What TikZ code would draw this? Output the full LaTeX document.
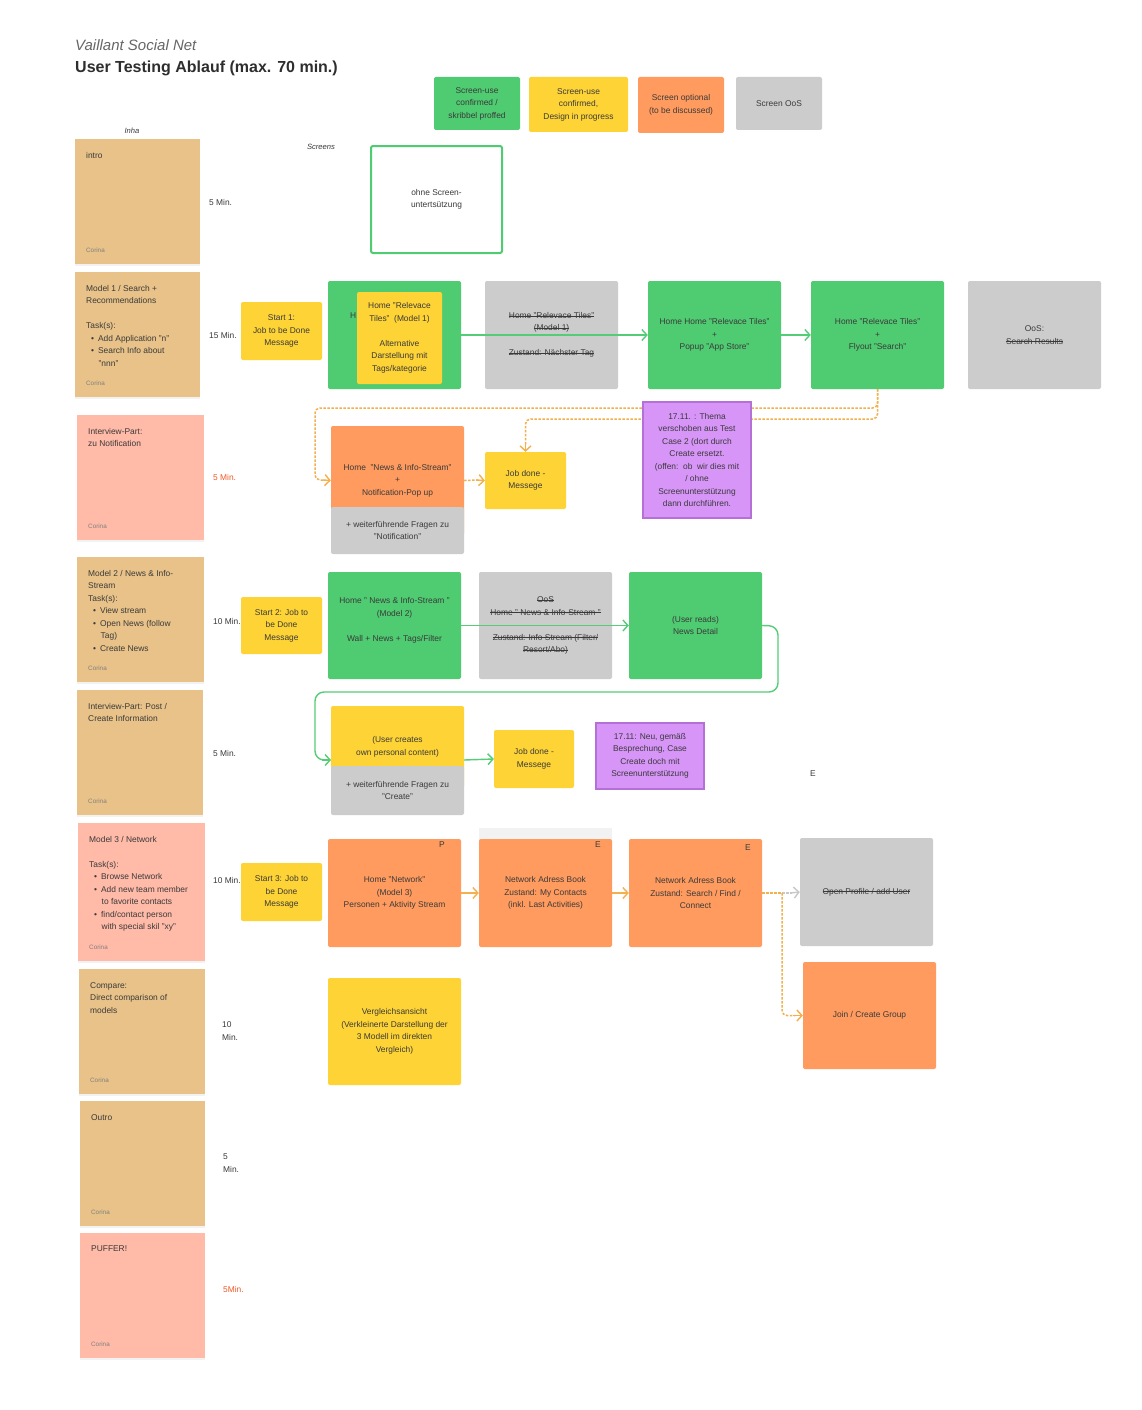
\documentclass[tikz,border=0pt]{standalone}
\usepackage{fontspec}
\setmainfont{Liberation Sans}
\usetikzlibrary{arrows.meta,shadows}

\definecolor{cgreen}{HTML}{4FCB71}
\definecolor{cyellow}{HTML}{FED335}
\definecolor{corange}{HTML}{FF9B5E}
\definecolor{cgray}{HTML}{CDCCCD}
\definecolor{ctan}{HTML}{E8C288}
\definecolor{cpink}{HTML}{FFBAA8}
\definecolor{cpurple}{HTML}{D795F8}
\definecolor{cpurpleb}{HTML}{B470D6}
\definecolor{cdash}{HTML}{F3B04E}
\definecolor{cline}{HTML}{55CC77}
\definecolor{ctxt}{HTML}{3A3A3A}
\definecolor{cred}{HTML}{F05A28}
\definecolor{cgdash}{HTML}{C8C8C8}

\newlength\stw
\newcommand\strike[1]{\settowidth\stw{#1}\rlap{#1}\rule[0.27em]{\stw}{0.45pt}}
\newcommand\fs{\fontsize{8.4}{12.5}\selectfont}
\newcommand\bul{\hspace*{5pt}\textbullet\hspace{4pt}}
\newcommand\cont{\hspace*{12.5pt}}
\newcommand\mybox[7]{\node[#1,minimum width={#5-#3},minimum height={#6-#4}] (#2) at ({(#3+#5)/2},{(#4+#6)/2}) {#7};}
\newcommand\sticky[7]{%
  \mybox{stickybg,fill=#2}{#1}{#3}{#4}{#5}{#6}{}%
  \node[ntext] (#1t) at (#3+11,#4+13) {#7};%
  \node[corina] (#1c) at (#3+11,#6-14) {Corina};}

\tikzset{
  scr/.style={rounded corners=2pt, inner sep=0pt, align=center, text=ctxt, font=\fs},
  gbox/.style={scr, fill=cgreen},
  ybox/.style={scr, fill=cyellow},
  obox/.style={scr, fill=corange},
  grbox/.style={scr, fill=cgray},
  pbox/.style={scr, fill=cpurple, draw=cpurpleb, line width=1.3pt, rounded corners=0pt},
  wbox/.style={scr, fill=white, draw=cgreen, line width=2pt},
  stickybg/.style={inner sep=0pt, drop shadow={opacity=0.1, shadow xshift=0pt, shadow yshift=-2pt}},
  ntext/.style={anchor=north west, align=left, inner sep=0pt, text=ctxt, font=\fs},
  corina/.style={anchor=west, inner sep=0pt, text=black!50, font=\fontsize{6.3}{7}\selectfont},
  tlabel/.style={anchor=west, inner sep=0pt, text=ctxt, font=\fs, align=left},
  hdr/.style={inner sep=0pt, text=ctxt, font=\fontsize{7.6}{9}\selectfont\itshape},
  corner/.style={inner sep=0pt, text=ctxt, font=\fs},
  tip/.style={-{Straight Barb[length=5pt,width=11pt]}},
  garrow/.style={draw=cline, line width=1.4pt, tip},
  oarrow/.style={draw=cdash, line width=1.4pt, tip},
  odash/.style={draw=cdash, line width=1.5pt, dash pattern=on 2.5pt off 1.5pt},
  gdash/.style={draw=cgdash, line width=1.5pt, dash pattern=on 2.5pt off 1.5pt},
}

\begin{document}
\begin{tikzpicture}[x=1pt,y=-1pt]
\useasboundingbox (0,0) rectangle (1142,1410);
\fill[white] (0,0) rectangle (1142,1410);

% titles
\node[anchor=base west, inner sep=0pt, text=black!60, font=\fontsize{15}{18}\selectfont\itshape] (sub) at (75,51) {Vaillant Social Net};
\node[anchor=base west, inner sep=0pt, text=black!82, font=\fontsize{16}{19}\selectfont\bfseries] (title) at (75,73) {User Testing Ablauf (max. 70 min.)};

% legend
\mybox{gbox}{lg1}{434}{77}{520}{130}{Screen-use\\confirmed /\\skribbel proffed}
\mybox{ybox}{lg2}{529}{77}{628}{132}{Screen-use\\confirmed,\\Design in progress}
\mybox{obox}{lg3}{638}{77}{724}{133}{Screen optional\\(to be discussed)}
\mybox{grbox}{lg4}{736}{77}{822}{130}{Screen OoS}

% headers
\node[hdr] (inha) at (132,131) {Inha};
\node[hdr] (screens) at (321,147) {Screens};

% sticky notes
\sticky{intro}{ctan}{75}{139}{200}{264}{intro}
\sticky{mone}{ctan}{75}{272}{200}{397}{Model 1 / Search +\\Recommendations\\~\\Task(s):\\\bul Add Application "n"\\\bul Search Info about\\\cont "nnn"}
\sticky{ipone}{cpink}{77}{415}{204}{540}{Interview-Part:\\zu Notification}
\sticky{mtwo}{ctan}{77}{557}{204}{682}{Model 2 / News \& Info-\\Stream\\Task(s):\\\bul View stream\\\bul Open News (follow\\\cont Tag)\\\bul Create News}
\sticky{iptwo}{ctan}{77}{690}{203}{815}{Interview-Part: Post /\\Create Information}
\sticky{mthree}{cpink}{78}{823}{205}{961}{Model 3 / Network\\~\\Task(s):\\\bul Browse Network\\\bul Add new team member\\\cont to favorite contacts\\\bul find/contact person\\\cont with special skil "xy"}
\sticky{cmp}{ctan}{79}{969}{205}{1094}{Compare:\\Direct comparison of\\models}
\sticky{outro}{ctan}{80}{1101}{205}{1226}{Outro}
\sticky{puffer}{cpink}{80}{1233}{205}{1358}{PUFFER!}

% time labels
\node[tlabel] (tone) at (209,202) {5 Min.};
\node[tlabel] (ttwo) at (209,335) {15 Min.};
\node[tlabel, text=cred] (tthree) at (213,477) {5 Min.};
\node[tlabel] (tfour) at (213,621) {10 Min.};
\node[tlabel] (tfive) at (213,753) {5 Min.};
\node[tlabel] (tsix) at (213,880) {10 Min.};
\node[tlabel] (tseven) at (222,1031) {10\\Min.};
\node[tlabel] (teight) at (223,1163) {5\\Min.};
\node[tlabel, text=cred] (tnine) at (223,1289) {5Min.};

% intro screen
\mybox{wbox}{ohne}{371}{146}{502}{253}{ohne Screen-\\untertsützung}

% row 1
\mybox{ybox}{sone}{241}{302}{322}{360}{Start 1:\\Job to be Done\\Message}
\mybox{gbox}{hone}{328}{281}{461}{389}{}
\node[corner, anchor=west] (hlabel) at (350,316) {H};
\mybox{ybox}{honey}{357}{292}{442}{384}{Home "Relevace\\Tiles"\ \ (Model 1)\\~\\Alternative\\Darstellung mit\\Tags/kategorie}
\mybox{grbox}{oosone}{485}{281}{618}{389}{\strike{Home "Relevace Tiles"}\\\strike{(Model 1)}\\~\\\strike{Zustand: Nächster Tag}}
\mybox{gbox}{gtwo}{648}{281}{781}{389}{Home Home "Relevace Tiles"\\+\\Popup "App Store"}
\mybox{gbox}{gthree}{811}{281}{944}{389}{Home "Relevace Tiles"\\+\\Flyout "Search"}
\mybox{grbox}{oostwo}{968}{281}{1101}{389}{OoS:\\\strike{Search Results}}
\draw[garrow] (hone.east) -- (gtwo.west);
\draw[garrow] (gtwo.east) -- (gthree.west);

% row 2 (notification)
\mybox{obox}{oone}{331}{426}{464}{535}{Home\ \ "News \& Info-Stream"\\+\\Notification-Pop up}
\mybox{grbox}{ooneq}{331}{507}{464}{554}{+ weiterführende Fragen zu\\"Notification"}
\mybox{ybox}{jdone}{485}{452}{566}{509}{Job done -\\Messege}

\draw[odash, rounded corners=5pt] (gthree.south) -- (877.5,408) -- (315,408) -- (315,480) -- (325,480);
\draw[cdash, line width=1.4pt, tip] (323,480) -- (oone.west);
\draw[odash, rounded corners=5pt] (gthree.south) -- (877.5,419) -- (525.5,419) -- (525.5,446);
\draw[cdash, line width=1.4pt, tip] (525.5,444) -- (jdone.north);
\draw[odash] (oone.east) -- (478,480);
\draw[cdash, line width=1.4pt, tip] (476,480) -- (jdone.west);

\mybox{pbox}{pone}{643}{402}{751}{518}{17.11. : Thema\\verschoben aus Test\\Case 2 (dort durch\\Create ersetzt.\\(offen:\ \ ob\ \ wir dies mit\\/ ohne\\Screenunterstützung\\dann durchführen.}

% row 3 (model 2)
\mybox{ybox}{stwo}{241}{597}{322}{654}{Start 2: Job to\\be Done\\Message}
\mybox{gbox}{mtwog}{328}{572}{461}{679}{Home " News \& Info-Stream "\\(Model 2)\\~\\Wall + News + Tags/Filter\\~}
\mybox{grbox}{oosthree}{479}{572}{612}{679}{\strike{OoS}\\\strike{Home " News \& Info-Stream "}\\~\\\strike{Zustand: Info Stream (Filter/}\\\strike{Resort/Abo)}}
\mybox{gbox}{uone}{629}{572}{762}{679}{(User reads)\\News Detail}
\draw[garrow] (mtwog.east) -- (uone.west);

% row 4 (create)
\mybox{ybox}{cone}{331}{706}{464}{788}{(User creates\\own personal content)}
\mybox{grbox}{coneq}{331}{766}{464}{815}{+ weiterführende Fragen zu\\"Create"}
\coordinate (cin) at (331,760);
\coordinate (cout) at (464,760);
\mybox{ybox}{jdtwo}{494}{730}{574}{788}{Job done -\\Messege}
\mybox{pbox}{ptwo}{596}{723}{704}{789}{17.11: Neu, gemäß\\Besprechung, Case\\Create doch mit\\Screenunterstützung}
\node[corner] (elabel) at (813,774) {E};
\draw[cline, line width=1.4pt, rounded corners=9pt] (uone.east) -- (778,626) -- (778,692) -- (315,692) -- (315,760) -- (324,760);
\draw[garrow] (322,760) -- (cin);
\draw[garrow] (cout) -- (jdtwo.west);

% row 5 (model 3)
\mybox{ybox}{sthree}{241}{863}{322}{921}{Start 3: Job to\\be Done\\Message}
\mybox{obox}{none}{328}{839}{461}{947}{Home "Network"\\(Model 3)\\Personen + Aktivity Stream}
\node[corner] (pl) at (442,845) {P};
\fill[black!5] (479,828) rectangle (612,840);
\mybox{obox}{ntwo}{479}{839}{612}{947}{Network Adress Book\\Zustand: My Contacts\\(inkl. Last Activities)}
\node[corner] (eone) at (598,845) {E};
\mybox{obox}{nthree}{629}{839}{762}{947}{Network Adress Book\\Zustand: Search / Find /\\Connect}
\node[corner] (etwo) at (748,848) {E};
\mybox{grbox}{oosfour}{800}{838}{933}{946}{\strike{Open Profile / add User}}
\mybox{obox}{jg}{803}{962}{936}{1069}{Join / Create Group}
\draw[oarrow] (none.east) -- (ntwo.west);
\draw[oarrow] (ntwo.east) -- (nthree.west);
\coordinate (split) at (782,893);
\draw[odash] (nthree.east) -- (split);
\draw[gdash] (split) -- (792,893);
\draw[cgdash, line width=1.4pt, tip] (790,893) -- (oosfour.west);
\draw[odash, rounded corners=5pt] (split) -- (782,1015.5) -- (795,1015.5);
\draw[cdash, line width=1.4pt, tip] (793,1015.5) -- (jg.west);

% row 6
\mybox{ybox}{vgl}{328}{978}{461}{1085}{Vergleichsansicht\\(Verkleinerte Darstellung der\\3 Modell im direkten\\Vergleich)}
\end{tikzpicture}
\end{document}
